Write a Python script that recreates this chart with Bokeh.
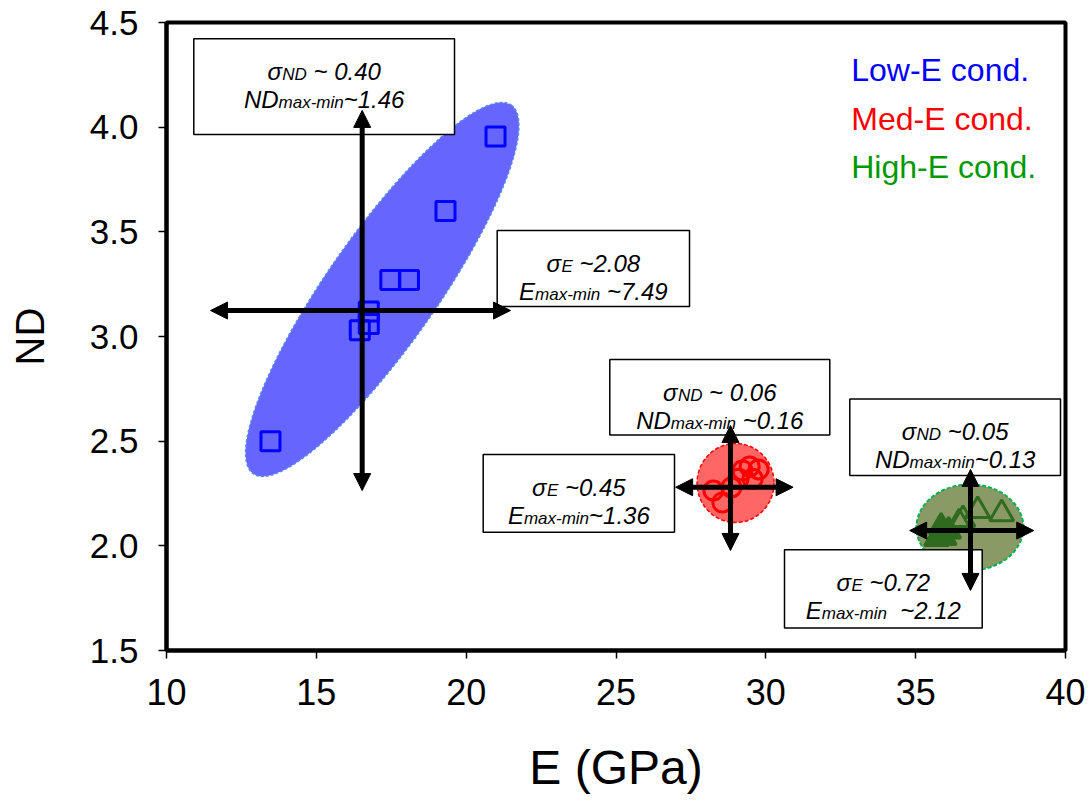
from bokeh.plotting import figure
from bokeh.models import Range1d, FixedTicker, Label, Arrow, NormalHead, PrintfTickFormatter
from bokeh.embed import file_html
from bokeh.resources import INLINE

# ---------------- data ----------------
low_E = [13.47, 16.45, 16.75, 16.75, 17.47, 18.09, 19.31, 20.98]
low_ND = [2.50, 3.03, 3.06, 3.12, 3.27, 3.27, 3.60, 3.955]

med_E = [28.25, 28.55, 28.85, 29.09, 29.22, 29.46, 29.56, 29.76]
med_ND = [2.264, 2.207, 2.279, 2.321, 2.360, 2.379, 2.321, 2.365]

high_E = [35.70, 35.80, 35.95, 35.85, 36.10, 36.45, 36.58, 37.07, 37.87]
high_ND = [2.035, 2.045, 2.040, 2.090, 2.070, 2.110, 2.125, 2.168, 2.153]

# ellipse centres (one per condition)
ell_E = [17.20, 28.99, 36.81]
ell_ND = [3.225, 2.300, 2.088]

# cross arrows: vertical at cross_E, horizontal at cross_ND
cross_E = [16.53, 28.82, 36.83]
cross_ND = [3.124, 2.280, 2.073]
h_lo = [11.47, 26.99, 34.80]
h_hi = [21.48, 30.91, 38.94]
v_lo = [2.264, 1.978, 1.787]
v_hi = [4.080, 2.575, 2.365]

# annotation boxes (data coordinates)
box_l = [10.911, 21.035, 24.793, 20.568, 32.802, 30.623]
box_r = [19.611, 27.453, 32.134, 26.952, 39.833, 37.220]
box_t = [4.422, 3.506, 2.890, 2.436, 2.702, 1.981]
box_b = [3.965, 3.143, 2.530, 2.065, 2.336, 1.608]

NB = "\u00a0"
# box texts: (prefix, subscript, suffix) for line 1 and line 2
box_text = [
    [("σ", "ND", NB + "~ 0.40"), ("ND", "max-min", "~1.46")],
    [("σ", "E", NB + "~2.08"), ("E", "max-min", NB + "~7.49")],
    [("σ", "ND", NB + "~ 0.06"), ("ND", "max-min", NB + "~0.16")],
    [("σ", "E", NB + "~0.45"), ("E", "max-min", "~1.36")],
    [("σ", "ND", NB + "~0.05"), ("ND", "max-min", "~0.13")],
    [("σ", "E", NB + "~0.72"), ("E", "max-min", NB + NB + "~2.12")],
]

legend_text = ["Low-E cond.", "Med-E cond.", "High-E cond."]
legend_color = ["#0000FF", "#FF0000", "#009900"]

x_ticks = [10, 15, 20, 25, 30, 35, 40]
y_ticks = [1.5, 2.0, 2.5, 3.0, 3.5, 4.0, 4.5]

# ---------------- figure ----------------
FONT = "Liberation Sans"
p = figure(frame_width=899, frame_height=628,
           x_range=Range1d(10, 40), y_range=Range1d(1.5, 4.5),
           output_backend="svg", toolbar_location=None,
           min_border_left=166, min_border_right=27,
           min_border_top=22, min_border_bottom=151,
           x_axis_label="E (GPa)", y_axis_label="ND")
p.xgrid.visible = False
p.ygrid.visible = False
p.outline_line_color = "black"
p.outline_line_width = 4
p.outline_line_alpha = 1
p.background_fill_color = "white"
p.border_fill_color = "white"

p.xaxis.ticker = FixedTicker(ticks=x_ticks)
p.yaxis.ticker = FixedTicker(ticks=y_ticks)
p.yaxis.formatter = PrintfTickFormatter(format="%.1f")
for ax in (p.xaxis, p.yaxis):
    ax.axis_line_width = 4
    ax.axis_line_color = "black"
    ax.major_tick_line_width = 1.5
    ax.major_tick_out = 8
    ax.major_tick_in = 0
    ax.minor_tick_line_color = None
    ax.major_label_text_font = FONT
    ax.major_label_text_color = "black"
    ax.axis_label_text_font = FONT
    ax.axis_label_text_font_style = "normal"
    ax.axis_label_text_color = "black"
p.xaxis.major_label_text_font_size = "36px"
p.yaxis.major_label_text_font_size = "35px"
p.xaxis.axis_label_text_font_size = "48px"
p.yaxis.axis_label_text_font_size = "40px"
p.xaxis.major_label_standoff = 20
p.yaxis.major_label_standoff = 20
p.xaxis.axis_label_standoff = 33
p.yaxis.axis_label_standoff = 35

# ellipses (screen-sized shapes)
p.ellipse(x=ell_E[0], y=ell_ND[0], width=450, height=110, angle=0.96,
          width_units="screen", height_units="screen",
          fill_color="#6666FF", line_color="#5A8AE6", line_width=1.5, line_dash="3 2")
p.ellipse(x=ell_E[1], y=ell_ND[1], width=77, height=79,
          width_units="screen", height_units="screen",
          fill_color="#FF6666", line_color="#FF0000", line_width=1.5, line_dash="4 2")
p.ellipse(x=ell_E[2], y=ell_ND[2], width=107, height=86,
          width_units="screen", height_units="screen",
          fill_color="#8A9A66", line_color="#00B050", line_width=2, line_dash="4 2")

# markers
p.scatter(low_E, low_ND, marker="square", size=19, fill_alpha=0,
          line_color="#0000FF", line_width=3)
p.scatter(med_E, med_ND, marker="circle", size=19, fill_alpha=0,
          line_color="#FF0000", line_width=3)
tri_fill = ["#2F6B1E"] * 5 + [None] * 4
p.scatter(high_E, high_ND, marker="triangle", size=24, fill_color=tri_fill,
          line_color="#2F6B1E", line_width=3)

# boxes
p.quad(left=box_l, right=box_r, top=box_t, bottom=box_b,
       fill_color="white", line_color="black", line_width=1.5)

# box texts with subscripts
W = {' ': 0.278, NB: 0.278, '~': 0.584, '.': 0.278, '-': 0.333, 'E': 0.667,
     'N': 0.722, 'D': 0.722, 'm': 0.833, 'a': 0.556, 'x': 0.5, 'i': 0.222,
     'n': 0.556, 'σ': 0.617}


def tw(s, size):
    return sum(W.get(c, 0.556) for c in s) * size


MAIN, SUB = 24, 17
for i, lines in enumerate(box_text):
    cx = (box_l[i] + box_r[i]) / 2
    for j, (pre, sub, suf) in enumerate(lines):
        w1, w2, w3 = tw(pre, MAIN), tw(sub, SUB), tw(suf, MAIN)
        x0 = -(w1 + w2 + w3) / 2
        yoff = -33 if j == 0 else -61
        for txt, size, dx, dy in ((pre, MAIN, x0, 0), (sub, SUB, x0 + w1, -3),
                                  (suf, MAIN, x0 + w1 + w2, 0)):
            p.add_layout(Label(x=cx, y=box_t[i], x_offset=dx, y_offset=yoff + dy,
                               text=txt, text_font=FONT, text_font_style="italic",
                               text_font_size=f"{size}px", text_color="black",
                               text_align="left", text_baseline="alphabetic"))

# legend-like coloured texts
for k, (t, c) in enumerate(zip(legend_text, legend_color)):
    p.add_layout(Label(x=32.85, y=4.271, y_offset=-48.3 * k, text=t,
                       text_font=FONT, text_font_size="32px", text_color=c,
                       text_align="left", text_baseline="alphabetic"))

# cross arrows
for i in range(3):
    for (xs, ys, xe, ye) in ((h_lo[i], cross_ND[i], h_hi[i], cross_ND[i]),
                             (cross_E[i], v_lo[i], cross_E[i], v_hi[i])):
        p.add_layout(Arrow(start=NormalHead(size=17, fill_color="black", line_color="black"),
                           end=NormalHead(size=17, fill_color="black", line_color="black"),
                           x_start=xs, y_start=ys, x_end=xe, y_end=ye,
                           line_width=5, line_color="black"))

open("out.html", "w").write(file_html(p, INLINE))
